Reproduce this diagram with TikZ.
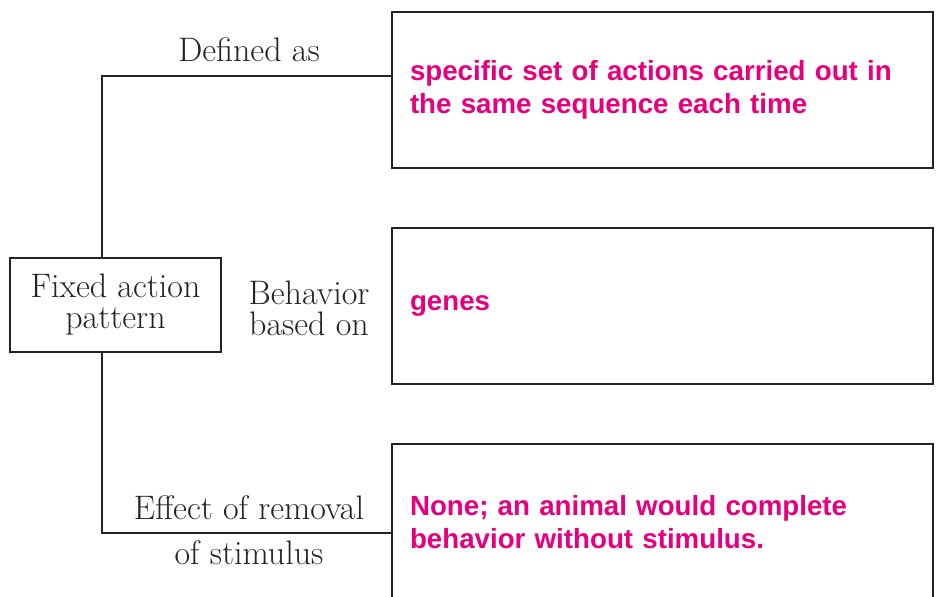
\documentclass[tikz,border=0pt]{standalone}
\usepackage{fontspec}
\newfontfamily\pinkfont{Liberation Sans}
\definecolor{pinktext}{RGB}{230,0,126}
\definecolor{linegray}{RGB}{35,35,35}
\begin{document}
\begin{tikzpicture}[x=1pt,y=-1pt,
  conn/.style={draw=linegray,line width=2pt},
  answerbox/.style={draw=linegray,line width=2pt,anchor=north west,
    minimum width=541pt,minimum height=156pt,inner xsep=18pt,inner ysep=0pt,
    text width=505pt,align=left,text=pinktext,
    font=\pinkfont\bfseries\fontsize{27.7}{33}\selectfont},
  sublabel/.style={align=center,text=linegray,inner sep=0pt,
    font=\fontsize{34}{31}\selectfont}]
\useasboundingbox (0,0) rectangle (940,597);
\clip (0,0) rectangle (940,597);
% left box
\node[draw=linegray,line width=2pt,minimum width=211pt,minimum height=94pt,
  inner sep=0pt,align=center,text=linegray,font=\fontsize{34}{31}\selectfont]
  (fap) at (115.5,305) {Fixed action\\pattern};
% answer boxes
\node[answerbox] (b1) at (391,11) {specific set of actions carried out in\\the same sequence each time};
\node[answerbox] (b2) at (391,227) {genes};
\node[answerbox] (b3) at (391,443) {None; an animal would complete\\behavior without stimulus.};
% connector points
\coordinate (ftop) at (102,258);
\coordinate (fbot) at (102,352);
\coordinate (b1in) at (391,76);
\coordinate (b3in) at (391,533);
\draw[conn] (ftop) |- (b1in);
\draw[conn] (fbot) |- (b3in);
% labels
\node[sublabel] (l1) at (249,50) {Defined as};
\node[sublabel] (l2) at (309,308) {Behavior\\based on};
\node[sublabel] (l3) at (249,508) {Effect of removal};
\node[sublabel] (l4) at (249,553) {of stimulus};
\end{tikzpicture}
\end{document}
